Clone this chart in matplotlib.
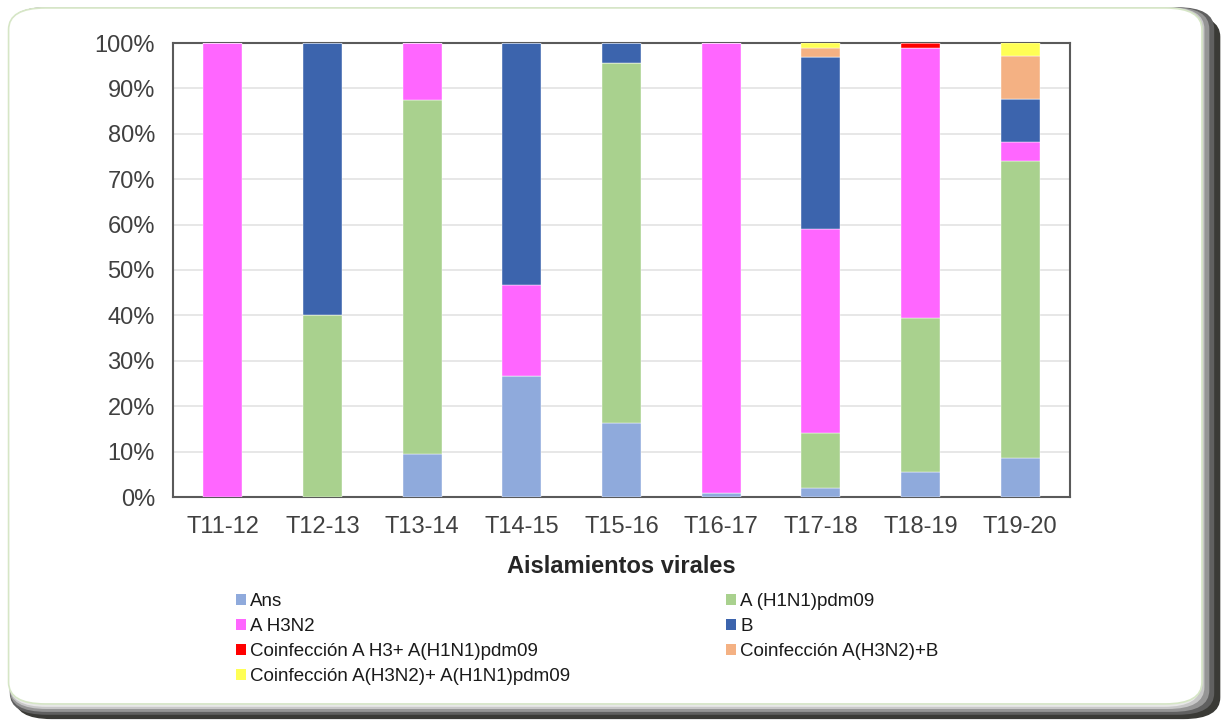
import matplotlib
matplotlib.use("Agg")
import matplotlib.pyplot as plt
from matplotlib.patches import FancyBboxPatch, Patch
import numpy as np

plt.rcParams['font.family'] = ['Liberation Sans', 'DejaVu Sans']

seasons = ["T11-12", "T12-13", "T13-14", "T14-15", "T15-16", "T16-17", "T17-18", "T18-19", "T19-20"]
ans      = [0, 0, 9.5, 26.7, 16.3, 0.8, 2.0, 5.6, 8.5]
h1n1     = [0, 40, 78.0, 0, 79.3, 0, 12.0, 33.9, 65.6]
h3n2     = [100, 0, 12.5, 20.0, 0, 99.2, 45.0, 59.3, 4.2]
b        = [0, 60, 0, 53.3, 4.4, 0, 38.0, 0, 9.3]
co_h3_h1 = [0, 0, 0, 0, 0, 0, 0, 1.2, 0]
co_h3n2_b = [0, 0, 0, 0, 0, 0, 2.0, 0, 9.6]
co_h3n2_h1 = [0, 0, 0, 0, 0, 0, 1.0, 0, 2.8]

series = [
    ("Ans", ans, "#8FAADC"),
    ("A (H1N1)pdm09", h1n1, "#A9D18E"),
    ("A H3N2", h3n2, "#FF66FF"),
    ("B", b, "#3C64AD"),
    ("Coinfección A H3+ A(H1N1)pdm09", co_h3_h1, "#FF0000"),
    ("Coinfección A(H3N2)+B", co_h3n2_b, "#F4B183"),
    ("Coinfección A(H3N2)+ A(H1N1)pdm09", co_h3n2_h1, "#FFFF55"),
]

fig = plt.figure(figsize=(12.24, 7.22), dpi=100)
fig.patch.set_facecolor("white")

# frame with shadow
shadow = FancyBboxPatch((0.012, 0.004), 0.985, 0.975, boxstyle="round,pad=0,rounding_size=0.03",
                        transform=fig.transFigure, facecolor="#3a3a36", edgecolor="none", zorder=0)
fig.patches.append(shadow)
for off, c in [(0.004, "#606060"), (0.008, "#959595"), (0.012, "#c8c8c8"), (0.015, "#e8e8e8")]:
    p = FancyBboxPatch((0.008, 0.006 + off), 0.988 - off, 0.984 - off,
                       boxstyle="round,pad=0,rounding_size=0.03",
                       transform=fig.transFigure, facecolor=c, edgecolor="none", zorder=0)
    fig.patches.append(p)
front = FancyBboxPatch((0.007, 0.025), 0.975, 0.964, boxstyle="round,pad=0,rounding_size=0.03",
                       transform=fig.transFigure, facecolor="white", edgecolor="#d6e6c6",
                       linewidth=1.2, zorder=0)
fig.patches.append(front)

ax = fig.add_axes([173 / 1224, 1 - 497 / 722, (1070 - 173) / 1224, (497 - 43) / 722])
ax.set_zorder(5)
ax.set_facecolor("white")
x = np.arange(len(seasons))
bottom = np.zeros(len(seasons))
for name, vals, col in series:
    v = np.array(vals, dtype=float)
    ax.bar(x, v, bottom=bottom, width=0.39, color=col, label=name, zorder=3,
           edgecolor="white", linewidth=0.3)
    bottom += v

ax.set_xlim(-0.5, len(seasons) - 0.5)
ax.set_ylim(0, 100)
ax.set_yticks(np.arange(0, 101, 10))
ax.set_yticklabels([f"{v}%" for v in range(0, 101, 10)])
ax.set_xticks(x)
ax.set_xticklabels(seasons)
ax.yaxis.grid(True, color="#e3e3e3", linewidth=1.2, zorder=0)
ax.set_axisbelow(True)
for s in ax.spines.values():
    s.set_color("#5a5a5a")
    s.set_linewidth(1.5)
ax.tick_params(axis="both", length=0, labelsize=17, colors="#404040")
ax.tick_params(axis="y", pad=13)
ax.tick_params(axis="x", pad=14)
ax.set_xlabel("Aislamientos virales", fontsize=17, fontweight="bold", color="#262626", labelpad=12)

handles = {n: Patch(facecolor=c, edgecolor="none") for n, _, c in series}
left_names = [series[i][0] for i in (0, 2, 4, 6)]
right_names = [series[i][0] for i in (1, 3, 5)]
common = dict(loc="upper left", frameon=False, fontsize=13.5, handlelength=0.55,
              handleheight=0.55, handletextpad=0.2, labelspacing=0.43,
              borderaxespad=0, borderpad=0)
leg1 = fig.legend([handles[n] for n in left_names], left_names,
                  bbox_to_anchor=(236 / 1224, 1 - 593 / 722), **common)
leg2 = fig.legend([handles[n] for n in right_names], right_names,
                  bbox_to_anchor=(726 / 1224, 1 - 593 / 722), **common)
for lg in (leg1, leg2):
    lg.set_zorder(6)
    for t in lg.get_texts():
        t.set_color("#1a1a1a")

fig.savefig("out.png", dpi=100)
